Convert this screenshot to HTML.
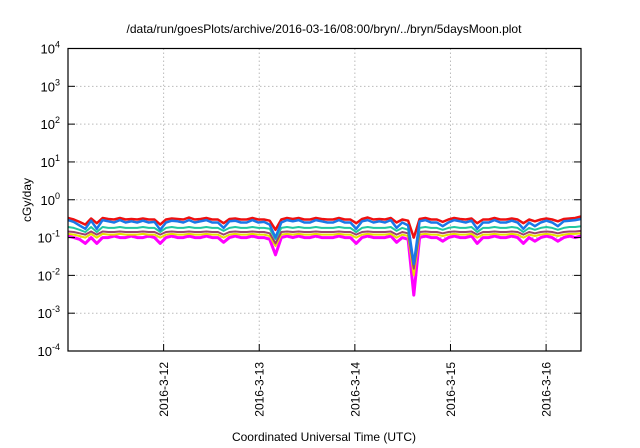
<!DOCTYPE html>
<html><head><meta charset="utf-8"><style>
body{margin:0;background:#fff;font-family:"Liberation Sans",sans-serif}
svg{display:block}
</style></head><body>
<svg id="chart" width="640" height="448" xmlns="http://www.w3.org/2000/svg" font-family="Liberation Sans, sans-serif">
<text x="324" y="33" font-size="12" text-anchor="middle">/data/run/goesPlots/archive/2016-03-16/08:00/bryn/../bryn/5daysMoon.plot</text>
<text transform="translate(31,200) rotate(-90)" font-size="12" text-anchor="middle">cGy/day</text>
<text x="324" y="441" font-size="12" text-anchor="middle">Coordinated Universal Time (UTC)</text>
<g id="grid"></g><g id="series"></g><g id="axes"></g>
</svg>
<script>
const xTickLabels=["2016-3-12","2016-3-13","2016-3-14","2016-3-15","2016-3-16"];
const xTickDays=[1,2,3,4,5];
const yTickExps=[-4,-3,-2,-1,0,1,2,3,4];
const dayStart=0, dayEnd=5.365;
const red=[0.33,0.3,0.26,0.22,0.32,0.24,0.33,0.31,0.3,0.33,0.3,0.31,0.3,0.32,0.3,0.3,0.22,0.3,0.32,0.31,0.3,0.34,0.3,0.31,0.33,0.3,0.3,0.24,0.31,0.32,0.3,0.3,0.33,0.3,0.3,0.28,0.16,0.3,0.33,0.31,0.33,0.3,0.3,0.33,0.31,0.3,0.3,0.33,0.3,0.3,0.24,0.31,0.34,0.3,0.31,0.3,0.33,0.25,0.3,0.28,0.1,0.31,0.33,0.3,0.3,0.26,0.3,0.33,0.31,0.3,0.32,0.24,0.3,0.3,0.33,0.3,0.3,0.32,0.3,0.24,0.3,0.27,0.3,0.32,0.3,0.27,0.31,0.32,0.33,0.36];
const blue=[0.29,0.26,0.21,0.17,0.28,0.17,0.29,0.27,0.25,0.29,0.25,0.27,0.25,0.28,0.25,0.26,0.16,0.25,0.28,0.27,0.25,0.29,0.25,0.27,0.29,0.25,0.25,0.18,0.27,0.28,0.25,0.25,0.29,0.25,0.26,0.22,0.1,0.25,0.29,0.27,0.29,0.25,0.25,0.29,0.27,0.25,0.25,0.29,0.25,0.25,0.17,0.27,0.29,0.25,0.27,0.25,0.29,0.18,0.25,0.21,0.02,0.27,0.29,0.25,0.25,0.2,0.25,0.29,0.27,0.25,0.28,0.17,0.25,0.25,0.29,0.25,0.25,0.28,0.25,0.17,0.25,0.2,0.25,0.28,0.25,0.2,0.27,0.28,0.29,0.31];
const teal=[0.19,0.18,0.16,0.14,0.19,0.14,0.19,0.18,0.18,0.19,0.18,0.18,0.18,0.19,0.18,0.18,0.14,0.18,0.19,0.18,0.18,0.19,0.18,0.18,0.19,0.18,0.18,0.15,0.18,0.19,0.18,0.18,0.19,0.18,0.18,0.17,0.09,0.18,0.19,0.18,0.19,0.18,0.18,0.19,0.18,0.18,0.18,0.19,0.18,0.18,0.14,0.18,0.19,0.18,0.18,0.18,0.19,0.15,0.18,0.16,0.02,0.18,0.19,0.18,0.18,0.16,0.18,0.19,0.18,0.18,0.19,0.14,0.18,0.18,0.19,0.18,0.18,0.19,0.18,0.14,0.18,0.16,0.18,0.19,0.18,0.16,0.18,0.19,0.19,0.2];
const brown=[0.145,0.14,0.13,0.12,0.145,0.12,0.145,0.14,0.14,0.145,0.14,0.14,0.14,0.145,0.14,0.14,0.12,0.14,0.145,0.14,0.14,0.145,0.14,0.14,0.145,0.14,0.14,0.12,0.14,0.145,0.14,0.14,0.145,0.14,0.14,0.13,0.07,0.14,0.145,0.14,0.145,0.14,0.14,0.145,0.14,0.14,0.14,0.145,0.14,0.14,0.12,0.14,0.145,0.14,0.14,0.14,0.145,0.12,0.14,0.13,0.015,0.14,0.145,0.14,0.14,0.13,0.14,0.145,0.14,0.14,0.145,0.12,0.14,0.14,0.145,0.14,0.14,0.145,0.14,0.12,0.14,0.13,0.14,0.145,0.14,0.13,0.14,0.145,0.145,0.15];
const yellow=[0.125,0.12,0.11,0.1,0.125,0.1,0.125,0.12,0.12,0.125,0.12,0.12,0.12,0.125,0.12,0.12,0.1,0.12,0.125,0.12,0.12,0.125,0.12,0.12,0.125,0.12,0.12,0.1,0.12,0.125,0.12,0.12,0.125,0.12,0.12,0.11,0.06,0.12,0.125,0.12,0.125,0.12,0.12,0.125,0.12,0.12,0.12,0.125,0.12,0.12,0.1,0.12,0.125,0.12,0.12,0.12,0.125,0.1,0.12,0.11,0.01,0.12,0.125,0.12,0.12,0.11,0.12,0.125,0.12,0.12,0.125,0.1,0.12,0.12,0.125,0.12,0.12,0.125,0.12,0.1,0.12,0.11,0.12,0.125,0.12,0.11,0.12,0.125,0.125,0.13];
const magenta=[0.11,0.1,0.09,0.07,0.1,0.07,0.1,0.1,0.11,0.1,0.1,0.11,0.1,0.1,0.11,0.1,0.07,0.1,0.11,0.1,0.1,0.11,0.1,0.1,0.11,0.1,0.1,0.075,0.1,0.11,0.1,0.1,0.11,0.1,0.1,0.09,0.035,0.1,0.11,0.1,0.11,0.1,0.1,0.11,0.1,0.1,0.1,0.11,0.1,0.1,0.07,0.1,0.11,0.1,0.1,0.1,0.11,0.075,0.1,0.09,0.003,0.1,0.11,0.1,0.1,0.08,0.1,0.11,0.1,0.1,0.11,0.07,0.1,0.1,0.11,0.1,0.1,0.11,0.1,0.07,0.1,0.08,0.1,0.11,0.1,0.08,0.1,0.11,0.1,0.11];
const L=68,R=581,T=48.5,B=351;
const xs=d=>L+(d-dayStart)/(dayEnd-dayStart)*(R-L);
const ys=v=>B-(Math.log10(v)+4)/8*(B-T);
const NS="http://www.w3.org/2000/svg";
function mk(tag,attrs,parent){const e=document.createElementNS(NS,tag);for(const k in attrs)e.setAttribute(k,attrs[k]);parent.appendChild(e);return e;}
const grid=document.getElementById('grid'),axes=document.getElementById('axes'),ser=document.getElementById('series');
yTickExps.forEach(p=>{const y=ys(Math.pow(10,p));
 if(p>-4&&p<4){const g=mk('line',{x1:L,x2:R,y1:y,y2:y,stroke:'#bbb','stroke-dasharray':'1.5,2.5','stroke-width':1},grid);
 
 }
 const t1=mk('line',{x1:L,x2:L+7,y1:y,y2:y,stroke:'#000'},axes);
 
 
 const t2=mk('line',{x1:R-7,x2:R,y1:y,y2:y,stroke:'#000'},axes);
 
 
 const tx=mk('text',{x:L-8,y:y+5,'font-size':13,'text-anchor':'end'},axes);
 
 
 tx.innerHTML='10<tspan dy="-6" font-size="9">'+p+'</tspan>';
});
xTickDays.forEach((d,i)=>{const x=xs(d);
 const g=mk('line',{x1:x,x2:x,y1:T,y2:B,stroke:'#bbb','stroke-dasharray':'1.5,2.5','stroke-width':1},grid);
 
 
 const t=mk('line',{x1:x,x2:x,y1:B-7,y2:B,stroke:'#000'},axes);
 
 
 const tx=mk('text',{transform:'translate('+(x+4.5)+',362) rotate(-90)','font-size':12,'text-anchor':'end'},axes);
 
 
 tx.textContent=xTickLabels[i];
});
const fr=mk('rect',{x:L,y:T,width:R-L,height:B-T,fill:'none',stroke:'#000','stroke-width':1.2},axes);


const list=[[magenta,'#ff00ff',3,'series-magenta'],[yellow,'#e8e000',2,'series-yellow'],[brown,'#a04070',2,'series-brown'],[teal,'#20c8a0',2,'series-teal'],[red,'#ee1010',2.5,'series-red'],[blue,'#1a78e8',2.5,'series-blue']];
list.forEach(([arr,c,w,n])=>{const pts=arr.map((v,i)=>xs(dayStart+i*(dayEnd-dayStart)/(arr.length-1)).toFixed(1)+','+ys(v).toFixed(1)).join(' ');
 const p=mk('polyline',{points:pts,fill:'none',stroke:c,'stroke-width':w,'stroke-linejoin':'round'},ser);
 
 
});
</script>
</body></html>
